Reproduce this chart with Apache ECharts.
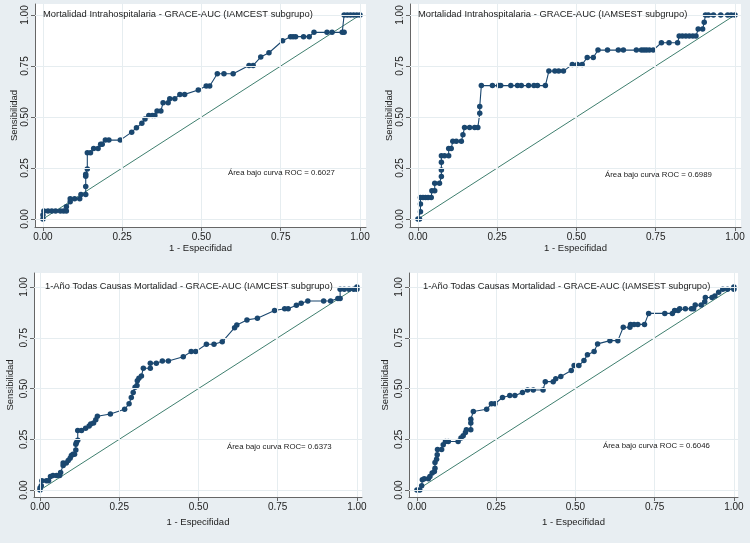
<!DOCTYPE html>
<html>
<head>
<meta charset="utf-8">
<script src="https://cdn.jsdelivr.net/npm/echarts@6/dist/echarts.min.js"></script>
<style>
html,body{margin:0;padding:0;background:#e8eef2;}
#chart{width:750px;height:543px;}
</style>
</head>
<body>
<div id="chart"></div>
<script>
// ---------- data ----------
const tickValues = [0, 0.25, 0.5, 0.75, 1];

const panelTitles = [
  'Mortalidad Intrahospitalaria - GRACE-AUC (IAMCEST subgrupo)',
  'Mortalidad Intrahospitalaria - GRACE-AUC (IAMSEST subgrupo)',
  '1-Año Todas Causas Mortalidad - GRACE-AUC (IAMCEST subgrupo)',
  '1-Año Todas Causas Mortalidad - GRACE-AUC (IAMSEST subgrupo)'
];
const aucTexts = [
  'Área bajo curva ROC = 0.6027',
  'Área bajo curva ROC = 0.6989',
  'Área bajo curva ROC= 0.6373',
  'Área bajo curva ROC = 0.6046'
];
const xAxisTitle = '1 - Especifidad';
const yAxisTitle = 'Sensibilidad';

// Panel 1: intrahospital, IAMCEST
const fpr1 = [0,0,0.003,0.016,0.028,0.04,0.055,0.065,0.074,0.074,
  0.086,0.086,0.1,0.116,0.12,0.135,0.135,0.135,0.135,0.14,
  0.14,0.15,0.16,0.174,0.182,0.187,0.197,0.208,0.244,0.28,
  0.295,0.312,0.322,0.334,0.345,0.353,0.36,0.372,0.379,0.395,
  0.4,0.416,0.432,0.447,0.49,0.515,0.526,0.55,0.571,0.6,
  0.65,0.663,0.687,0.713,0.756,0.781,0.789,0.797,0.822,0.84,
  0.855,0.896,0.912,0.944,0.95,0.95,0.96,0.97,0.98,0.99,
  1];
const tpr1 = [0,0.02,0.04,0.04,0.04,0.04,0.04,0.04,0.04,0.06,
  0.085,0.1,0.1,0.1,0.12,0.12,0.16,0.21,0.22,0.245,
  0.325,0.325,0.346,0.346,0.367,0.367,0.387,0.387,0.387,0.426,
  0.448,0.469,0.49,0.507,0.507,0.507,0.53,0.53,0.57,0.57,
  0.59,0.59,0.611,0.611,0.632,0.652,0.652,0.712,0.712,0.712,
  0.753,0.753,0.794,0.815,0.874,0.894,0.894,0.894,0.894,0.894,
  0.915,0.915,0.915,0.915,0.915,1,1,1,1,1,
  1];

// Panel 2: intrahospital, IAMSEST
const fpr2 = [0,0.005,0.008,0.008,0.008,0.016,0.024,0.032,0.042,0.044,
  0.053,0.053,0.068,0.074,0.074,0.074,0.074,0.084,0.097,0.097,
  0.105,0.11,0.121,0.137,0.142,0.147,0.163,0.179,0.189,0.195,
  0.195,0.2,0.235,0.255,0.261,0.293,0.314,0.326,0.349,0.366,
  0.377,0.402,0.413,0.432,0.444,0.459,0.487,0.503,0.518,0.534,
  0.553,0.568,0.598,0.632,0.648,0.689,0.705,0.713,0.721,0.73,
  0.742,0.768,0.792,0.819,0.824,0.834,0.845,0.856,0.867,0.877,
  0.884,0.898,0.903,0.907,0.916,0.932,0.955,0.977,0.988,1];
const tpr2 = [0,0,0.036,0.074,0.106,0.106,0.106,0.106,0.106,0.139,
  0.139,0.175,0.175,0.208,0.24,0.278,0.31,0.31,0.31,0.346,
  0.346,0.381,0.381,0.381,0.413,0.449,0.449,0.449,0.449,0.518,
  0.551,0.654,0.654,0.654,0.654,0.654,0.654,0.654,0.654,0.654,
  0.654,0.654,0.725,0.725,0.725,0.725,0.758,0.758,0.758,0.792,
  0.792,0.828,0.828,0.828,0.828,0.828,0.828,0.828,0.828,0.828,
  0.828,0.864,0.864,0.864,0.897,0.897,0.897,0.897,0.897,0.897,
  0.931,0.931,0.964,1,1,1,1,1,1,1];

// Panel 3: 1 year, IAMCEST
const fpr3 = [0,0,0.004,0.006,0.02,0.027,0.033,0.041,0.052,0.062,
  0.065,0.073,0.073,0.083,0.089,0.095,0.099,0.104,0.109,0.113,
  0.113,0.115,0.119,0.119,0.131,0.144,0.155,0.16,0.169,0.176,
  0.181,0.222,0.267,0.281,0.288,0.294,0.3,0.306,0.307,0.312,
  0.32,0.326,0.348,0.348,0.367,0.386,0.405,0.452,0.477,0.491,
  0.525,0.549,0.575,0.614,0.621,0.653,0.686,0.74,0.772,0.783,
  0.809,0.824,0.845,0.895,0.917,0.94,0.947,0.947,0.96,0.975,
  0.99,1,1];
const tpr3 = [0,0.01,0.021,0.046,0.046,0.046,0.067,0.072,0.072,0.072,
  0.087,0.121,0.133,0.133,0.146,0.157,0.17,0.177,0.177,0.198,
  0.226,0.234,0.246,0.293,0.293,0.305,0.316,0.325,0.33,0.346,
  0.364,0.375,0.398,0.425,0.456,0.48,0.507,0.515,0.539,0.551,
  0.562,0.6,0.6,0.625,0.625,0.636,0.636,0.657,0.682,0.682,
  0.718,0.718,0.73,0.8,0.813,0.838,0.846,0.884,0.893,0.893,
  0.91,0.92,0.931,0.931,0.931,0.944,0.944,0.989,0.989,0.989,
  0.989,0.989,1];

// Panel 4: 1 year, IAMSEST
const fpr4 = [0,0.009,0.015,0.017,0.023,0.036,0.041,0.048,0.055,0.057,
  0.057,0.062,0.064,0.065,0.078,0.083,0.09,0.099,0.13,0.139,
  0.146,0.153,0.156,0.17,0.17,0.17,0.178,0.22,0.235,0.246,
  0.27,0.293,0.309,0.333,0.349,0.367,0.398,0.405,0.43,0.438,
  0.454,0.487,0.496,0.511,0.527,0.538,0.559,0.57,0.609,0.634,
  0.651,0.672,0.674,0.685,0.697,0.718,0.731,0.782,0.806,0.813,
  0.824,0.829,0.847,0.866,0.873,0.878,0.897,0.908,0.91,0.931,
  0.94,0.952,0.965,0.98,1,1];
const tpr4 = [0,0,0.021,0.051,0.056,0.056,0.067,0.084,0.092,0.108,
  0.136,0.152,0.174,0.2,0.2,0.223,0.239,0.239,0.239,0.256,
  0.267,0.284,0.297,0.297,0.33,0.349,0.387,0.398,0.425,0.425,
  0.456,0.466,0.466,0.48,0.493,0.493,0.493,0.534,0.534,0.548,
  0.559,0.589,0.613,0.613,0.638,0.666,0.682,0.72,0.736,0.736,
  0.802,0.802,0.816,0.816,0.816,0.816,0.87,0.87,0.87,0.884,
  0.884,0.893,0.893,0.893,0.893,0.911,0.911,0.928,0.948,0.948,
  0.956,0.974,0.989,0.989,0.989,1];

const refX = [0, 1];
const refY = [0, 1];

// ---------- layout / style ----------
const curveColor = '#1a476f';
const refColor = '#3f7f6f';
const textColor = '#222';
const font = 'Liberation Sans, Arial, sans-serif';

const grids = [
  {left: 35, top: 4, width: 331, height: 223},
  {left: 410, top: 4, width: 331, height: 223},
  {left: 34, top: 273, width: 328, height: 224},
  {left: 409, top: 273, width: 329, height: 224}
];
const xRanges = [[-0.025, 1.019], [-0.025, 1.019], [-0.019, 1.016], [-0.025, 1.013]];
const yRanges = [[-0.039, 1.054], [-0.039, 1.054], [-0.034, 1.069], [-0.034, 1.069]];
const yNameGap = [13, 13, 19, 19];
const xNameGap = [14, 14, 20, 20];
const titlePos = [[43, 10], [418, 10], [45, 282], [423, 282]];
const aucPos = [[228, 169], [605, 171], [227, 443], [603, 442]];
const titleSizes = [9.4, 9.4, 9.3, 9.3];

const fprs = [fpr1, fpr2, fpr3, fpr4];
const tprs = [tpr1, tpr2, tpr3, tpr4];
const zip = (a, b) => a.map((v, i) => [v, b[i]]);
const fmt = v => v.toFixed(2);

const option = {
  backgroundColor: '#e8eef2',
  animation: false,
  title: [],
  grid: [],
  xAxis: [],
  yAxis: [],
  series: []
};

for (let i = 0; i < 4; i++) {
  option.grid.push(Object.assign({show: true, backgroundColor: '#ffffff', borderWidth: 0, containLabel: false}, grids[i]));
  const axisCommon = {
    type: 'value',
    gridIndex: i,
    axisLine: {show: true, onZero: false, lineStyle: {color: '#666', width: 1}},
    axisTick: {show: true, inside: false, length: 4, lineStyle: {color: '#666'}, customValues: tickValues},
    splitLine: {show: false},
    nameLocation: 'middle',
    nameTextStyle: {color: textColor, fontSize: 9.5, fontFamily: font}
  };
  option.xAxis.push(Object.assign({}, axisCommon, {
    min: xRanges[i][0], max: xRanges[i][1],
    name: xAxisTitle, nameGap: xNameGap[i],
    axisLabel: {color: textColor, fontSize: 10, fontFamily: font, margin: 5, customValues: tickValues, formatter: fmt}
  }));
  option.yAxis.push(Object.assign({}, axisCommon, {
    min: yRanges[i][0], max: yRanges[i][1],
    name: yAxisTitle, nameGap: yNameGap[i], nameRotate: 90,
    axisLabel: {color: textColor, fontSize: 10, fontFamily: font, margin: 5, rotate: 90, customValues: tickValues, formatter: fmt}
  }));
  // gridlines
  option.series.push({
    type: 'line', xAxisIndex: i, yAxisIndex: i, data: [], silent: true, z: 1,
    markLine: {
      silent: true, symbol: 'none', label: {show: false}, animation: false,
      lineStyle: {color: '#e6edf0', width: 1, type: 'solid'},
      data: tickValues.map(v => ({xAxis: v})).concat(tickValues.map(v => ({yAxis: v})))
    }
  });
  // reference diagonal
  option.series.push({
    type: 'line', xAxisIndex: i, yAxisIndex: i, z: 2,
    data: zip(refX, refY), showSymbol: false, symbol: 'none',
    lineStyle: {color: refColor, width: 1}
  });
  // ROC curve
  option.series.push({
    type: 'line', xAxisIndex: i, yAxisIndex: i, z: 3,
    data: zip(fprs[i], tprs[i]),
    symbol: 'circle', symbolSize: 5.5, showAllSymbol: true,
    itemStyle: {color: curveColor},
    lineStyle: {color: curveColor, width: 1.1}
  });
  option.title.push({
    text: panelTitles[i], left: titlePos[i][0], top: titlePos[i][1], padding: 0,
    textStyle: {color: textColor, fontSize: titleSizes[i], fontWeight: 'normal', fontFamily: font}
  });
  option.title.push({
    text: aucTexts[i], left: aucPos[i][0], top: aucPos[i][1], padding: 0,
    textStyle: {color: textColor, fontSize: 7.8, fontWeight: 'normal', fontFamily: font}
  });
}

const chart = echarts.init(document.getElementById('chart'), null, {renderer: 'canvas'});
chart.setOption(option);
</script>
</body>
</html>
